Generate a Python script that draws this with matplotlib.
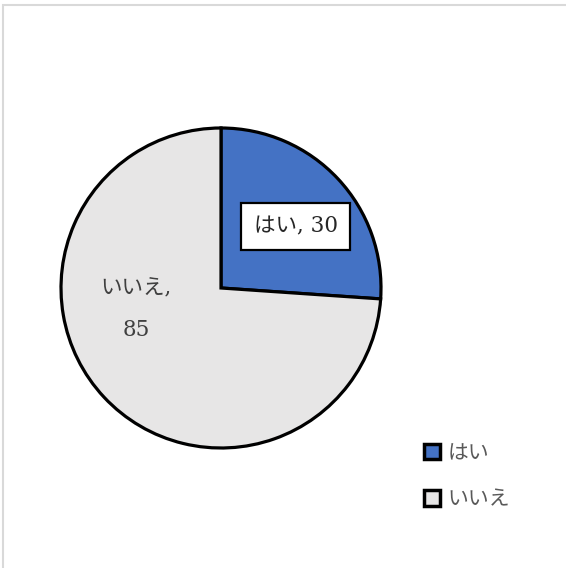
import matplotlib
matplotlib.use("Agg")
import matplotlib.pyplot as plt
from matplotlib.patches import Rectangle
import numpy as np

categories = ["はい", "いいえ"]
values = [30, 85]
colors = ["#4472C4", "#E7E6E6"]

FAM = ["DejaVu Serif", "Noto Sans CJK JP"]
W, H = 566, 568
fig = plt.figure(figsize=(W / 100, H / 100), dpi=100)
fig.patch.set_facecolor("white")

# figure border (light gray)
fig.patches.append(Rectangle((3 / W, -0.1), 1.2, (H - 5) / H + 0.1, transform=fig.transFigure,
                             fill=False, edgecolor="#D9D9D9", linewidth=1.5))

cx, cy, r = 221, 288, 160
ax = fig.add_axes([(cx - r) / W, (H - cy - r) / H, 2 * r / W, 2 * r / H])
wedges, _ = ax.pie(values, colors=colors, startangle=90, counterclock=False,
                   radius=1, wedgeprops=dict(edgecolor="black", linewidth=2.3))
ax.set_xlim(-1, 1)
ax.set_ylim(-1, 1)
ax.set_aspect("auto")
ax.axis("off")

# data labels
ax.text(0.466, 0.384, f"{categories[0]}, {values[0]}", ha="center", va="center",
        fontsize=15.5, color="#262626", family=FAM,
        bbox=dict(boxstyle="square,pad=0.58", facecolor="white", edgecolor="black", linewidth=1.6))
ax.text(-0.53, -0.135, f"{categories[1]},\n{values[1]}", ha="center", va="center",
        fontsize=15.5, color="#404040", family=FAM, linespacing=2.15)

leg = fig.legend(wedges, categories, loc="upper left", bbox_to_anchor=(424 / W, 1 - 444 / H),
                 frameon=False, borderpad=0, borderaxespad=0,
                 handlelength=0.76, handleheight=0.76, handletextpad=0.35,
                 labelspacing=1.3, prop=dict(family=FAM, size=15))
for t in leg.get_texts():
    t.set_color("#595959")
for h in leg.legend_handles:
    h.set_linewidth(2.5)

fig.savefig("out.png", dpi=100, facecolor="white")
